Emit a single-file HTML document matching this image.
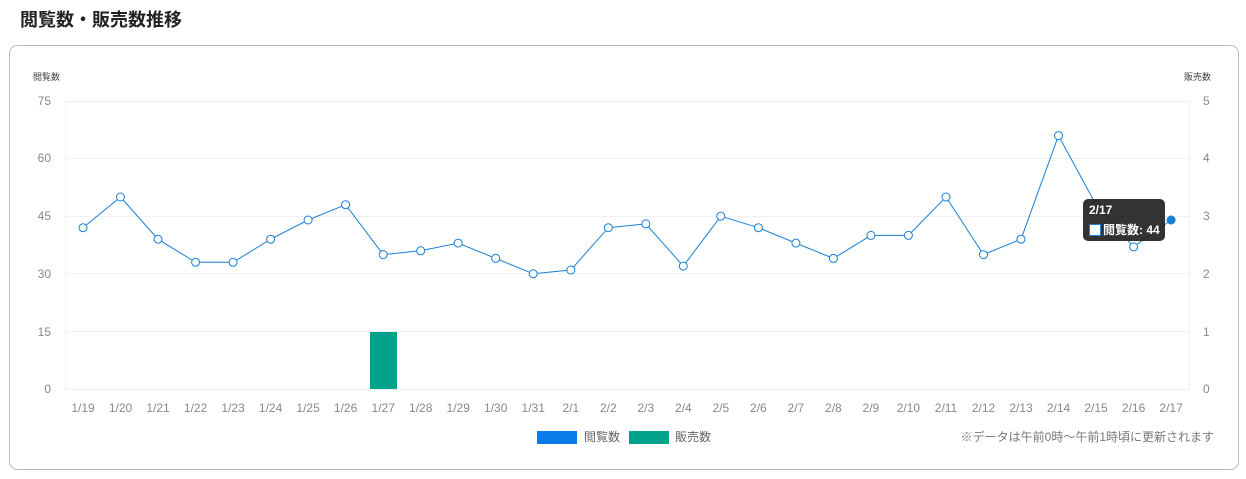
<!DOCTYPE html>
<html><head><meta charset="utf-8"><style>
body{margin:0;background:#fff;width:1246px;height:479px;overflow:hidden;font-family:"Liberation Sans","Noto Sans CJK JP",sans-serif;}
</style></head><body>
<svg width="1246" height="479" xmlns="http://www.w3.org/2000/svg" style="position:absolute;left:0;top:0" font-family="Liberation Sans, Noto Sans CJK JP, sans-serif">
<text x="20" y="26" font-size="18" font-weight="bold" fill="#222">閲覧数・販売数推移</text>
<rect x="9.5" y="45.5" width="1229" height="424" rx="8" fill="#fff" stroke="#bbb"/>
<text x="33" y="80" font-size="9" fill="#444">閲覧数</text>
<text x="1184" y="80" font-size="9" fill="#444">販売数</text>
<g stroke="#f0f0f0" stroke-width="1">
<line x1="65" x2="1190" y1="101.5" y2="101.5"/><line x1="65" x2="1190" y1="158.5" y2="158.5"/>
<line x1="65" x2="1190" y1="216.5" y2="216.5"/><line x1="65" x2="1190" y1="273.5" y2="273.5"/>
<line x1="65" x2="1190" y1="331.5" y2="331.5"/><line x1="65" x2="1190" y1="389.5" y2="389.5"/>
<line x1="65.5" x2="65.5" y1="101" y2="389"/><line x1="1189.5" x2="1189.5" y1="101" y2="389"/>
</g>
<g font-size="12" fill="#888" text-anchor="end">
<text x="51" y="105">75</text><text x="51" y="162">60</text><text x="51" y="220">45</text><text x="51" y="278">30</text><text x="51" y="336">15</text><text x="51" y="393">0</text>
</g>
<g font-size="12" fill="#888">
<text x="1203" y="105">5</text><text x="1203" y="162">4</text><text x="1203" y="220">3</text><text x="1203" y="278">2</text><text x="1203" y="336">1</text><text x="1203" y="393">0</text>
</g>
<rect x="370" y="332" width="27" height="57" fill="#00a28a"/>
<g font-size="12" fill="#888" text-anchor="middle">
<text x="83" y="412">1/19</text><text x="120.5" y="412">1/20</text><text x="158" y="412">1/21</text><text x="195.6" y="412">1/22</text><text x="233.1" y="412">1/23</text><text x="270.6" y="412">1/24</text><text x="308.1" y="412">1/25</text><text x="345.6" y="412">1/26</text><text x="383.2" y="412">1/27</text><text x="420.7" y="412">1/28</text><text x="458.2" y="412">1/29</text><text x="495.7" y="412">1/30</text><text x="533.2" y="412">1/31</text><text x="570.8" y="412">2/1</text><text x="608.3" y="412">2/2</text><text x="645.8" y="412">2/3</text><text x="683.3" y="412">2/4</text><text x="720.8" y="412">2/5</text><text x="758.4" y="412">2/6</text><text x="795.9" y="412">2/7</text><text x="833.4" y="412">2/8</text><text x="870.9" y="412">2/9</text><text x="908.4" y="412">2/10</text><text x="946" y="412">2/11</text><text x="983.5" y="412">2/12</text><text x="1021" y="412">2/13</text><text x="1058.5" y="412">2/14</text><text x="1096" y="412">2/15</text><text x="1133.6" y="412">2/16</text><text x="1171.1" y="412">2/17</text>
</g>
<polyline fill="none" stroke="#1a7fd6" stroke-width="1" points="83,227.7 120.5,197 158,239.2 195.6,262.3 233.1,262.3 270.6,239.2 308.1,220 345.6,204.7 383.2,254.6 420.7,250.8 458.2,243.1 495.7,258.4 533.2,273.8 570.8,270 608.3,227.7 645.8,223.9 683.3,266.1 720.8,216.2 758.4,227.7 795.9,243.1 833.4,258.4 870.9,235.4 908.4,235.4 946,197 983.5,254.6 1021,239.2 1058.5,135.6 1096,204.7 1133.6,246.9 1171.1,220"/>
<g fill="#fff" stroke="#1a7fd6" stroke-width="1">
<circle cx="83" cy="227.7" r="4"/><circle cx="120.5" cy="197" r="4"/><circle cx="158" cy="239.2" r="4"/><circle cx="195.6" cy="262.3" r="4"/><circle cx="233.1" cy="262.3" r="4"/><circle cx="270.6" cy="239.2" r="4"/><circle cx="308.1" cy="220" r="4"/><circle cx="345.6" cy="204.7" r="4"/><circle cx="383.2" cy="254.6" r="4"/><circle cx="420.7" cy="250.8" r="4"/><circle cx="458.2" cy="243.1" r="4"/><circle cx="495.7" cy="258.4" r="4"/><circle cx="533.2" cy="273.8" r="4"/><circle cx="570.8" cy="270" r="4"/><circle cx="608.3" cy="227.7" r="4"/><circle cx="645.8" cy="223.9" r="4"/><circle cx="683.3" cy="266.1" r="4"/><circle cx="720.8" cy="216.2" r="4"/><circle cx="758.4" cy="227.7" r="4"/><circle cx="795.9" cy="243.1" r="4"/><circle cx="833.4" cy="258.4" r="4"/><circle cx="870.9" cy="235.4" r="4"/><circle cx="908.4" cy="235.4" r="4"/><circle cx="946" cy="197" r="4"/><circle cx="983.5" cy="254.6" r="4"/><circle cx="1021" cy="239.2" r="4"/><circle cx="1058.5" cy="135.6" r="4"/><circle cx="1096" cy="204.7" r="4"/><circle cx="1133.6" cy="246.9" r="4"/>
</g>
<circle cx="1171.1" cy="220" r="4.5" fill="#1a7fd6"/>
<rect x="1083" y="199" width="82" height="42" rx="5" fill="#222" fill-opacity="0.92"/>
<text x="1089" y="214" font-size="12" font-weight="bold" fill="#fff">2/17</text>
<rect x="1089.5" y="224.5" width="11" height="11" fill="#fff" stroke="#1a7fd6"/>
<text x="1103" y="234" font-size="12" font-weight="bold" fill="#fff">閲覧数: 44</text>
<rect x="537" y="431" width="40" height="13" fill="#0a7be6"/>
<text x="584" y="441" font-size="12" fill="#666">閲覧数</text>
<rect x="629" y="431" width="40" height="13" fill="#00a28a"/>
<text x="675" y="441" font-size="12" fill="#666">販売数</text>
<text x="1214" y="441" font-size="12" fill="#777" text-anchor="end">※データは午前0時～午前1時頃に更新されます</text>
</svg>
</body></html>
